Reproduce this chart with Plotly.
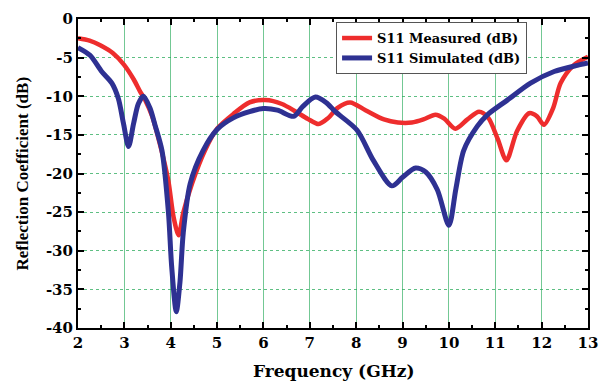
import plotly.graph_objects as go

# Data
f_meas = [2.0, 2.25, 2.48, 2.75, 2.99, 3.2, 3.34, 3.45, 3.6, 3.8, 3.95, 4.06, 4.17, 4.27, 4.46, 4.74,
          5.0, 5.35, 5.7, 6.04, 6.4, 6.7, 6.95, 7.19, 7.4, 7.6, 7.87, 8.2, 8.6, 8.9, 9.2,
          9.45, 9.71, 9.9, 10.14, 10.4, 10.65, 10.85, 11.05, 11.24, 11.47, 11.73, 11.9,
          12.05, 12.25, 12.41, 12.69, 13.0]
s11_meas = [-2.5, -2.8, -3.4, -4.4, -5.9, -7.8, -9.4, -10.5, -12.6, -17.0, -21.0, -25.6, -28.0,
            -25.1, -21.3, -17.0, -14.2, -12.3, -10.8, -10.5, -11.0, -12.0, -12.9, -13.6,
            -12.8, -11.5, -10.8, -11.8, -13.0, -13.4, -13.4, -13.0, -12.4, -12.9, -14.2,
            -13.0, -12.0, -12.8, -15.5, -18.3, -14.5, -12.2, -12.6, -13.7, -11.5, -8.3,
            -6.0, -4.9]

f_sim = [2.0, 2.26, 2.51, 2.73, 2.87, 2.98, 3.09, 3.2, 3.3, 3.41, 3.55, 3.66, 3.81, 3.95,
         4.02, 4.12, 4.2, 4.27, 4.42, 4.7, 5.0, 5.35, 5.7, 6.0, 6.3, 6.65, 6.85, 7.12, 7.35,
         7.55, 8.02, 8.37, 8.77, 9.0, 9.28, 9.5, 9.75, 10.0, 10.15, 10.32, 10.61, 10.83,
         11.26, 11.76, 12.27, 12.77, 13.0]
s11_sim = [-3.7, -4.7, -6.8, -8.3, -10.3, -13.5, -16.5, -13.5, -11.0, -10.0, -11.5, -13.7,
           -17.0, -25.0, -32.0, -37.9, -34.0, -27.7, -21.3, -17.0, -14.3, -12.8, -12.0,
           -11.6, -11.8, -12.6, -11.3, -10.1, -10.8, -12.0, -14.4, -18.3, -21.6, -20.5,
           -19.3, -19.8, -22.1, -26.7, -22.0, -17.0, -13.9, -12.4, -10.5, -8.3, -6.8,
           -6.0, -5.7]

x_tickvals = [2, 3, 4, 5, 6, 7, 8, 9, 10, 11, 12, 13]
x_ticktext = ["2", "3", "4", "5", "6", "7", "8", "9", "10", "11", "12", "13"]
y_tickvals = [0, -5, -10, -15, -20, -25, -30, -35, -40]
y_ticktext = ["0", "-5", "-10", "-15", "-20", "-25", "-30", "-35", "-40"]
x_title = "Frequency (GHz)"
y_title = "Reflection Coefficient (dB)"

FONT = "DejaVu Serif"
VFONT = "Liberation Serif"
RED = "#ee2d2d"
BLUE = "#2e3192"

fig = go.Figure()
fig.add_trace(go.Scatter(x=f_meas, y=s11_meas, mode="lines", name="S11 Measured (dB)",
                         line=dict(color=RED, width=4.5, shape="spline", smoothing=0.8)))
fig.add_trace(go.Scatter(x=f_sim, y=s11_sim, mode="lines", name="S11 Simulated (dB)",
                         line=dict(color=BLUE, width=5, shape="spline", smoothing=0.8)))

axis_common = dict(
    showline=True, linecolor="black", linewidth=2, mirror="ticks",
    ticks="inside", ticklen=6, tickwidth=2, tickcolor="black",
    tickfont=dict(family=FONT, size=15, color="black", weight="bold"),
    zeroline=False, automargin=False,
)

fig.update_xaxes(
    range=[2, 13], tickmode="array", tickvals=x_tickvals, ticktext=x_ticktext,
    showgrid=True, gridcolor="rgba(40,170,90,0.65)", gridwidth=1,
    minor=dict(dtick=0.5, tick0=2, ticks="inside", ticklen=3, tickwidth=2,
               tickcolor="black", showgrid=False),
    **axis_common,
)
fig.update_yaxes(
    range=[-40, 0], tickmode="array", tickvals=y_tickvals, ticktext=y_ticktext,
    showgrid=True, gridcolor="rgba(40,170,90,0.75)", gridwidth=1, griddash="3px,3px",
    minor=dict(dtick=2.5, tick0=0, ticks="inside", ticklen=3, tickwidth=2,
               tickcolor="black", showgrid=False),
    **axis_common,
)

fig.add_annotation(text=x_title, xref="paper", yref="paper", x=0.5, y=0,
                   xanchor="center", yanchor="top", yshift=-31, showarrow=False,
                   font=dict(family=FONT, size=17, color="black", weight="bold"))
fig.add_annotation(text=y_title, xref="paper", yref="paper", x=0, y=0.5,
                   xanchor="center", yanchor="middle", xshift=-56, textangle=-90,
                   showarrow=False,
                   font=dict(family=VFONT, size=17, color="black", weight="bold"))

fig.update_layout(
    width=608, height=381,
    margin=dict(l=78, r=20, t=19, b=53),
    plot_bgcolor="white", paper_bgcolor="white",
    showlegend=True,
    legend=dict(x=0.506, y=0.99, xanchor="left", yanchor="top",
                bgcolor="white", bordercolor="#555555", borderwidth=1,
                font=dict(family=FONT, size=13, color="black", weight="bold"),
                tracegroupgap=0, itemwidth=30),
)

fig.write_html("out.html")
